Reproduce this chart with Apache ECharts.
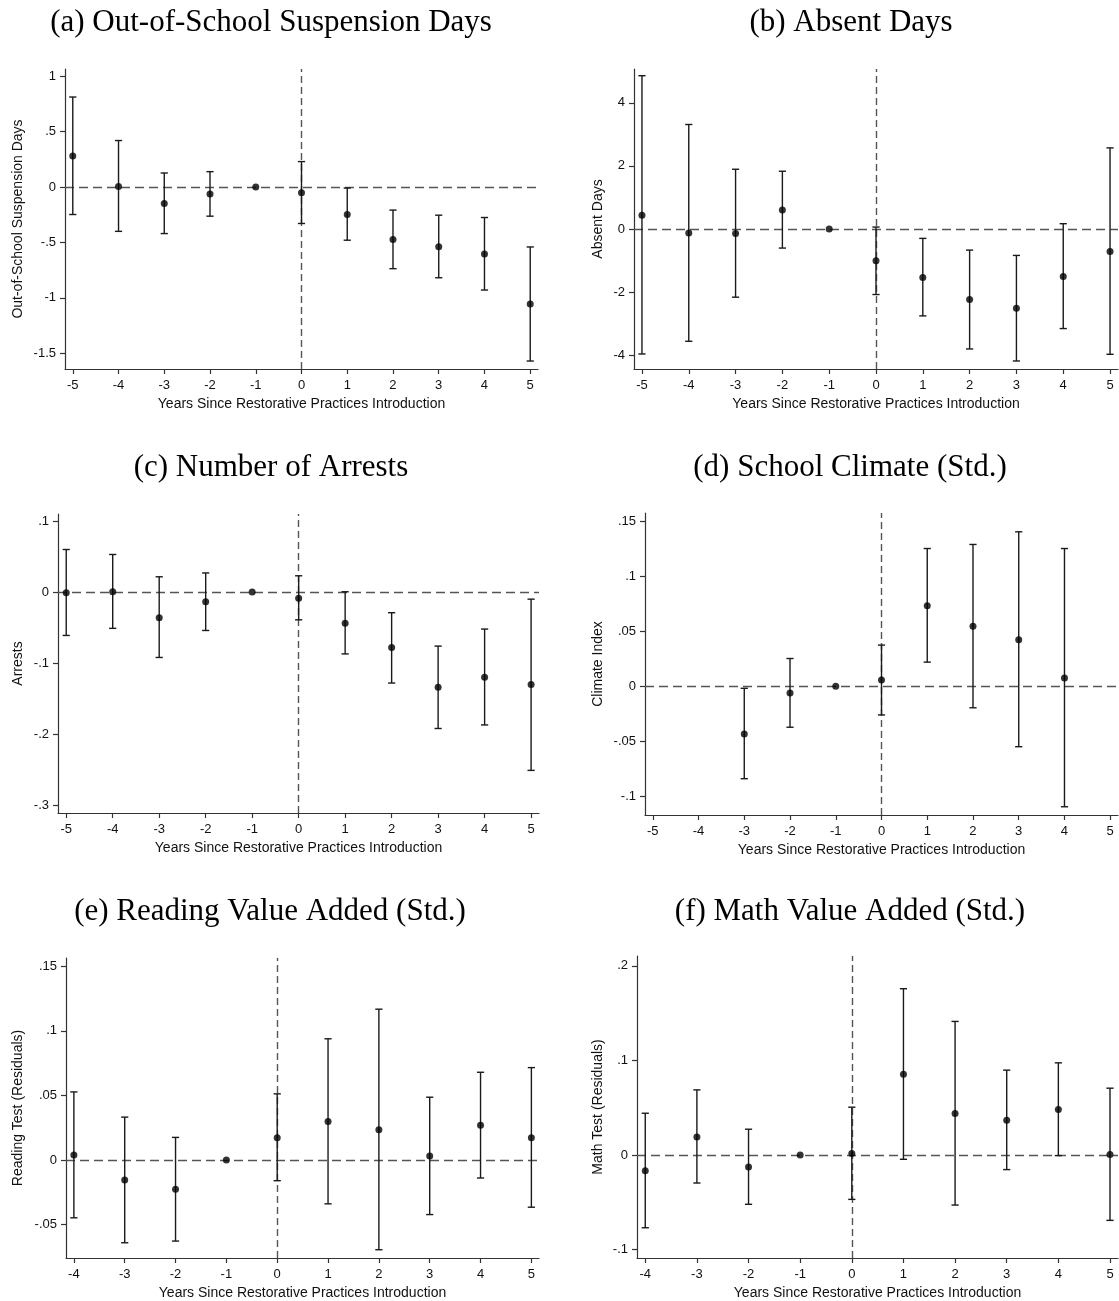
<!DOCTYPE html>
<html>
<head>
<meta charset="utf-8">
<script src="https://cdn.jsdelivr.net/npm/echarts@6/dist/echarts.min.js"></script>
<style>
  html, body { margin: 0; padding: 0; background: #fff; }
  #chart { width: 1119px; height: 1301px; }
</style>
</head>
<body>
<div id="chart"></div>
<script>
// event-study estimates: coefficient with 95% CI
const yearsFull = [-5, -4, -3, -2, -1, 0, 1, 2, 3, 4, 5];
const yearsClimate = [-3, -2, -1, 0, 1, 2, 3, 4];
const yearsTest = [-4, -3, -2, -1, 0, 1, 2, 3, 4, 5];

const suspCoef = [0.281, 0.006, -0.148, -0.063, 0, -0.051, -0.248, -0.474, -0.538, -0.604, -1.057];
const suspLo = [-0.248, -0.40, -0.42, -0.263, 0, -0.329, -0.48, -0.737, -0.819, -0.93, -1.571];
const suspHi = [0.813, 0.42, 0.127, 0.139, 0, 0.23, -0.009, -0.208, -0.254, -0.275, -0.541];

const absentCoef = [0.434, -0.127, -0.138, 0.603, 0, -1.005, -1.534, -2.233, -2.508, -1.503, -0.709];
const absentLo = [-3.958, -3.556, -2.159, -0.603, 0, -2.074, -2.751, -3.799, -4.18, -3.153, -3.968];
const absentHi = [4.857, 3.312, 1.894, 1.831, 0, 0.063, -0.296, -0.667, -0.836, 0.169, 2.571];

const arrestCoef = [-0.001, 0.0005, -0.036, -0.0136, 0, -0.0085, -0.0437, -0.078, -0.134, -0.120, -0.130];
const arrestLo = [-0.061, -0.051, -0.092, -0.054, 0, -0.039, -0.087, -0.128, -0.192, -0.187, -0.251];
const arrestHi = [0.060, 0.053, 0.0216, 0.027, 0, 0.023, 0.0005, -0.029, -0.076, -0.052, -0.0099];

const climateCoef = [-0.0433, -0.0061, 0, 0.0058, 0.0732, 0.0546, 0.0424, 0.0076];
const climateLo = [-0.084, -0.0372, 0, -0.026, 0.022, -0.0195, -0.0549, -0.1095];
const climateHi = [-0.0018, 0.0253, 0, 0.0375, 0.1253, 0.129, 0.1405, 0.1253];

const readCoef = [0.0039, -0.0154, -0.0226, 0, 0.0172, 0.0298, 0.0234, 0.0031, 0.027, 0.0172];
const readLo = [-0.0447, -0.064, -0.0627, 0, -0.016, -0.0339, -0.0694, -0.0422, -0.0139, -0.0365];
const readHi = [0.0527, 0.0332, 0.0175, 0, 0.0512, 0.0938, 0.1167, 0.0486, 0.0679, 0.0715];

const mathCoef = [-0.0166, 0.0191, -0.0127, 0, 0.0014, 0.0854, 0.0438, 0.0367, 0.048, 0.0004];
const mathLo = [-0.077, -0.0297, -0.0522, 0, -0.047, -0.0046, -0.053, -0.0155, -0.0007, -0.0692];
const mathHi = [0.0441, 0.0688, 0.0272, 0, 0.0505, 0.1758, 0.1412, 0.0897, 0.0974, 0.0706];

// tick labels
const xTicksFull = [-5, -4, -3, -2, -1, 0, 1, 2, 3, 4, 5];
const xTicksTest = [-4, -3, -2, -1, 0, 1, 2, 3, 4, 5];
const suspTicks = [-1.5, -1, -0.5, 0, 0.5, 1];
const absentTicks = [-4, -2, 0, 2, 4];
const arrestTicks = [-0.3, -0.2, -0.1, 0, 0.1];
const climateTicks = [-0.1, -0.05, 0, 0.05, 0.1, 0.15];
const readTicks = [-0.05, 0, 0.05, 0.1, 0.15];
const mathTicks = [-0.1, 0, 0.1, 0.2];

const xName = 'Years Since Restorative Practices Introduction';

// layout for each panel (pixels); nameX = where the y-axis title sits
const panels = [
  { title: '(a) Out-of-School Suspension Days', yName: 'Out-of-School Suspension Days',
    years: yearsFull, coef: suspCoef, lo: suspLo, hi: suspHi, xTicks: xTicksFull, yTicks: suspTicks,
    grid: { left: 65, top: 69, width: 473, height: 300 }, xr: [-5.17, 5.17], yr: [-1.643, 1.066],
    tx: 266, ty: 2, nameX: 17 },
  { title: '(b) Absent Days', yName: 'Absent Days',
    years: yearsFull, coef: absentCoef, lo: absentLo, hi: absentHi, xTicks: xTicksFull, yTicks: absentTicks,
    grid: { left: 634, top: 69, width: 484, height: 300 }, xr: [-5.17, 5.17], yr: [-4.434, 5.07],
    tx: 846, ty: 2, nameX: 597 },
  { title: '(c) Number of Arrests', yName: 'Arrests',
    years: yearsFull, coef: arrestCoef, lo: arrestLo, hi: arrestHi, xTicks: xTicksFull, yTicks: arrestTicks,
    grid: { left: 58, top: 514, width: 481, height: 299 }, xr: [-5.177, 5.17], yr: [-0.311, 0.110],
    tx: 266, ty: 447, nameX: 17 },
  { title: '(d) School Climate (Std.)', yName: 'Climate Index',
    years: yearsClimate, coef: climateCoef, lo: climateLo, hi: climateHi, xTicks: xTicksFull, yTicks: climateTicks,
    grid: { left: 645, top: 513, width: 473, height: 302 }, xr: [-5.17, 5.17], yr: [-0.117, 0.1576],
    tx: 845, ty: 447, nameX: 597 },
  { title: '(e) Reading Value Added (Std.)', yName: 'Reading Test (Residuals)',
    years: yearsTest, coef: readCoef, lo: readLo, hi: readHi, xTicks: xTicksTest, yTicks: readTicks,
    grid: { left: 66, top: 958, width: 473, height: 300 }, xr: [-4.155, 5.15], yr: [-0.0758, 0.1563],
    tx: 265, ty: 891, nameX: 17 },
  { title: '(f) Math Value Added (Std.)', yName: 'Math Test (Residuals)',
    years: yearsTest, coef: mathCoef, lo: mathLo, hi: mathHi, xTicks: xTicksTest, yTicks: mathTicks,
    grid: { left: 637, top: 956, width: 481, height: 302 }, xr: [-4.16, 5.155], yr: [-0.109, 0.2104],
    tx: 845, ty: 891, nameX: 597 }
];

// Stata-style number labels: .5 instead of 0.5
const stataFmt = v => String(+v.toPrecision(6)).replace(/^(-?)0\./, '$1.');

const axisColor = '#333';
const refLine = '#555';

const myChart = echarts.init(document.getElementById('chart'), null, { renderer: 'canvas' });

const option = {
  animation: false,
  backgroundColor: '#fff',
  title: panels.map(p => ({
    text: p.title, left: p.tx, top: p.ty, textAlign: 'center',
    textStyle: { fontFamily: 'Liberation Serif', fontSize: 31, fontWeight: 'normal', color: '#000' }
  })),
  grid: panels.map(p => Object.assign({ containLabel: false }, p.grid)),
  xAxis: panels.map((p, i) => ({
    type: 'value', gridIndex: i, min: p.xr[0], max: p.xr[1],
    name: xName, nameLocation: 'middle', nameGap: 28,
    nameTextStyle: { fontFamily: 'Liberation Sans', fontSize: 14, color: '#111' },
    axisLine: { show: true, onZero: false, lineStyle: { color: axisColor, width: 1.2 } },
    axisTick: { show: true, length: 5, customValues: p.xTicks, lineStyle: { color: axisColor, width: 1.2 } },
    axisLabel: { customValues: p.xTicks, formatter: stataFmt, fontFamily: 'Liberation Sans', fontSize: 13, color: '#111', margin: 10 },
    splitLine: { show: false }
  })),
  yAxis: panels.map((p, i) => ({
    type: 'value', gridIndex: i, min: p.yr[0], max: p.yr[1],
    name: p.yName, nameLocation: 'middle', nameRotate: 90, nameGap: p.grid.left - p.nameX - 8,
    nameTextStyle: { fontFamily: 'Liberation Sans', fontSize: 14, color: '#111' },
    axisLine: { show: true, onZero: false, lineStyle: { color: axisColor, width: 1.2 } },
    axisTick: { show: true, length: 5, customValues: p.yTicks, lineStyle: { color: axisColor, width: 1.2 } },
    axisLabel: { customValues: p.yTicks, formatter: stataFmt, fontFamily: 'Liberation Sans', fontSize: 13, color: '#111', margin: 9 },
    splitLine: { show: false }
  })),
  series: []
};

panels.forEach((p, i) => {
  // confidence intervals
  option.series.push({
    type: 'custom', xAxisIndex: i, yAxisIndex: i,
    data: p.years.map((x, k) => [x, p.lo[k], p.hi[k]]),
    encode: { x: 0, y: [1, 2] },
    silent: true, z: 3,
    renderItem: (params, api) => {
      const x = api.value(0), lo = api.value(1), hi = api.value(2);
      if (lo === hi) return null;
      const top = api.coord([x, hi]);
      const bot = api.coord([x, lo]);
      const w = 3.6;
      const style = { stroke: '#1a1a1a', lineWidth: 1.4 };
      return {
        type: 'group',
        children: [
          { type: 'line', shape: { x1: top[0], y1: top[1], x2: bot[0], y2: bot[1] }, style },
          { type: 'line', shape: { x1: top[0] - w, y1: top[1], x2: top[0] + w, y2: top[1] }, style },
          { type: 'line', shape: { x1: bot[0] - w, y1: bot[1], x2: bot[0] + w, y2: bot[1] }, style }
        ]
      };
    }
  });
  // point estimates + reference lines at 0
  option.series.push({
    type: 'scatter', xAxisIndex: i, yAxisIndex: i,
    data: p.years.map((x, k) => [x, p.coef[k]]),
    symbol: 'circle', symbolSize: 7,
    itemStyle: { color: '#000' },
    silent: true, z: 4,
    markLine: {
      silent: true, symbol: 'none', label: { show: false }, z: 2,
      data: [
        { yAxis: 0, lineStyle: { color: refLine, width: 1.4, type: [9, 5] } },
        { xAxis: 0, lineStyle: { color: refLine, width: 1.4, type: [7, 4] } }
      ]
    }
  });
});

myChart.setOption(option);
window.addEventListener('resize', myChart.resize);
</script>
</body>
</html>
